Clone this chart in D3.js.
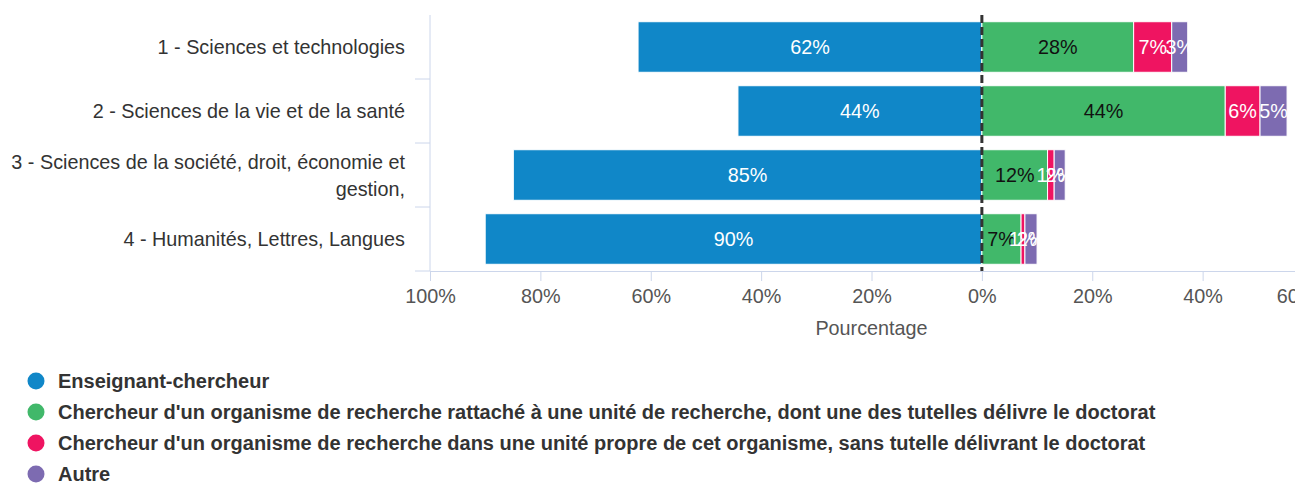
<!DOCTYPE html>
<html>
<head>
<meta charset="utf-8">
<script src="https://cdn.jsdelivr.net/npm/d3@7"></script>
<style>
  body { margin: 0; background: #fff; overflow: hidden; }
  text { font-family: "Liberation Sans", Arial, sans-serif; }
</style>
</head>
<body>
<div id="chart"></div>
<script>
// categories and series (percent of each row)
var categories = [
  "1 - Sciences et technologies",
  "2 - Sciences de la vie et de la santé",
  "3 - Sciences de la société, droit, économie et gestion,",
  "4 - Humanités, Lettres, Langues"
];
var enseignant = [62.3, 44.2, 84.9, 90.0];
var rattache   = [27.5, 44.1, 11.9, 7.1];
var propre     = [6.9, 6.3, 1.2, 0.7];
var autre      = [2.9, 4.9, 2.0, 2.2];

var seriesNames = [
  "Enseignant-chercheur",
  "Chercheur d'un organisme de recherche rattaché à une unité de recherche, dont une des tutelles délivre le doctorat",
  "Chercheur d'un organisme de recherche dans une unité propre de cet organisme, sans tutelle délivrant le doctorat",
  "Autre"
];
var colors = ["#1087c8", "#41b86a", "#ef1461", "#7d6bb1"];
var labelColors = ["#fff", "#111", "#fff", "#fff"];
var tickValues = [-100, -80, -60, -40, -20, 0, 20, 40, 60];
var xTitle = "Pourcentage";

// wrapped category labels
var categoryLines = [
  ["1 - Sciences et technologies"],
  ["2 - Sciences de la vie et de la santé"],
  ["3 - Sciences de la société, droit, économie et", "gestion,"],
  ["4 - Humanités, Lettres, Langues"]
];

var W = 1295, H = 483;
var fs = "19.8px";
var svg = d3.select("#chart").append("svg")
  .attr("width", W).attr("height", H);

var x = d3.scaleLinear().domain([-100, 60]).range([430, 1313]);
var y = d3.scaleBand().domain(categories).range([15, 271]);
var barH = y.bandwidth() * 0.79;

// build stacked segments: blue goes left, others go right
var segs = [];
categories.forEach(function(c, i) {
  segs.push({cat: c, s: 0, x0: -enseignant[i], x1: 0, v: enseignant[i]});
  var acc = 0;
  [rattache, propre, autre].forEach(function(arr, k) {
    segs.push({cat: c, s: k + 1, x0: acc, x1: acc + arr[i], v: arr[i]});
    acc += arr[i];
  });
});

// y axis line and tick marks between categories
svg.append("line")
  .attr("x1", 430).attr("x2", 430).attr("y1", 15).attr("y2", 271)
  .attr("stroke", "#ccd6eb");
categories.forEach(function(c) {
  var yy = y(c) + y.step();
  svg.append("line")
    .attr("x1", 415).attr("x2", 430).attr("y1", yy).attr("y2", yy)
    .attr("stroke", "#ccd6eb");
});

// x axis
var xAxis = svg.append("g")
  .attr("transform", "translate(0,271)")
  .call(d3.axisBottom(x).tickValues(tickValues).tickSize(10).tickPadding(8)
    .tickFormat(function(d) { return Math.abs(d) + "%"; }));
xAxis.select(".domain").attr("stroke", "#ccd6eb");
xAxis.selectAll(".tick line").attr("stroke", "#ccd6eb");
xAxis.selectAll(".tick text")
  .attr("fill", "#555").style("font-size", fs)
  .style("font-family", "'Liberation Sans', Arial, sans-serif");
// last label pushed back inside like the original
xAxis.selectAll(".tick text").filter(function(d) { return d === 60; })
  .attr("dx", -17);

svg.append("text")
  .attr("x", x(-20)).attr("y", 335)
  .attr("text-anchor", "middle")
  .attr("fill", "#555").style("font-size", fs)
  .text(xTitle);

// category labels
categories.forEach(function(c, i) {
  var lines = categoryLines[i];
  var cy = y(c) + y.bandwidth() / 2;
  var t = svg.append("text")
    .attr("text-anchor", "end")
    .attr("fill", "#333").style("font-size", fs);
  lines.forEach(function(l, j) {
    t.append("tspan")
      .attr("x", 405)
      .attr("y", cy + 7 + (j - (lines.length - 1) / 2) * 27)
      .text(l);
  });
});

// bars
svg.append("g").selectAll("rect")
  .data(segs).enter().append("rect")
    .attr("x", function(d) { return x(d.x0); })
    .attr("width", function(d) { return x(d.x1) - x(d.x0); })
    .attr("y", function(d) { return y(d.cat) + (y.bandwidth() - barH) / 2; })
    .attr("height", barH)
    .attr("fill", function(d) { return colors[d.s]; })
    .attr("stroke", "#fff").attr("stroke-width", 1);

// data labels
svg.append("g").selectAll("text")
  .data(segs).enter().append("text")
    .attr("x", function(d) { return x((d.x0 + d.x1) / 2); })
    .attr("y", function(d) { return y(d.cat) + y.bandwidth() / 2 + 7; })
    .attr("text-anchor", "middle")
    .attr("fill", function(d) { return labelColors[d.s]; })
    .style("font-size", fs)
    .text(function(d) { return Math.round(d.v) + "%"; });

// zero dashed line
svg.append("line")
  .attr("x1", x(0)).attr("x2", x(0)).attr("y1", 15).attr("y2", 271)
  .attr("stroke", "#333").attr("stroke-width", 3)
  .attr("stroke-dasharray", "8,4");

// legend
var legend = svg.append("g").selectAll("g")
  .data(seriesNames).enter().append("g")
    .attr("transform", function(d, i) { return "translate(36," + (381 + i * 31) + ")"; });
legend.append("circle").attr("r", 8.5)
  .attr("fill", function(d, i) { return colors[i]; });
legend.append("text")
  .attr("x", 22).attr("y", 7)
  .attr("fill", "#333").style("font-size", "20px").style("font-weight", "bold")
  .text(function(d) { return d; });
</script>
</body>
</html>
